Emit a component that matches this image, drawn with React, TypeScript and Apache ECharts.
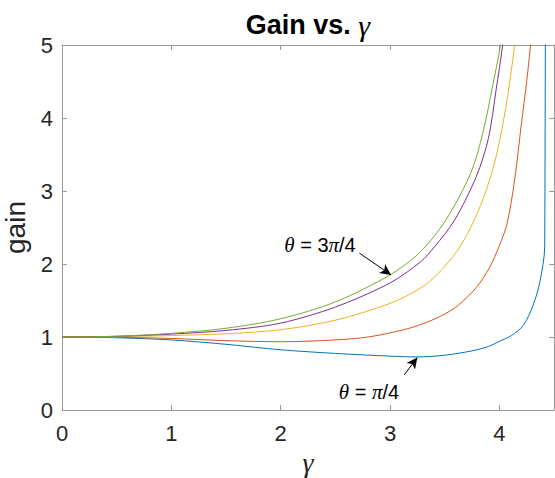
import React, { useEffect, useRef } from "react";
import * as echarts from "echarts";

// gain vs gamma
const thetaPi4: [number, number][] = [
  [0, 1], [0.5, 0.99], [1, 0.96], [1.5, 0.9], [2, 0.825], [2.5, 0.775], [3, 0.738],
  [3.25, 0.727], [3.5, 0.75], [3.75, 0.81], [3.9, 0.87], [4.0, 0.94], [4.11, 1.02],
  [4.22, 1.16], [4.31, 1.44], [4.37, 1.75], [4.415, 2.24], [4.425, 12],
];
const theta3Pi8: [number, number][] = [
  [0, 1], [0.5, 0.995], [1, 0.98], [1.5, 0.95], [2, 0.935], [2.5, 0.96], [2.8, 1.0],
  [3.1, 1.09], [3.28, 1.17], [3.47, 1.29], [3.62, 1.43], [3.79, 1.68], [3.91, 1.95],
  [4.0, 2.25], [4.07, 2.55], [4.14, 3.15], [4.2, 3.9], [4.25, 4.5], [4.29, 5.07], [4.33, 5.8],
];
const thetaPi2: [number, number][] = [
  [0, 1], [0.5, 1.005], [1, 1.02], [1.5, 1.045], [2, 1.1], [2.5, 1.23], [3, 1.46],
  [3.28, 1.67], [3.44, 1.87], [3.62, 2.19], [3.77, 2.6], [3.88, 3.01], [3.97, 3.47],
  [4.06, 4.15], [4.14, 5.0], [4.18, 5.6],
];
const theta5Pi8: [number, number][] = [
  [0, 1], [0.5, 1.01], [1, 1.04], [1.5, 1.09], [2, 1.19], [2.5, 1.41], [3, 1.74],
  [3.28, 2.03], [3.41, 2.24], [3.59, 2.6], [3.79, 3.2], [3.9, 3.72], [3.97, 4.38],
  [4.03, 5.0], [4.06, 5.5],
];
const theta3Pi4: [number, number][] = [
  [0, 1], [0.5, 1.01], [1, 1.05], [1.5, 1.12], [2, 1.25], [2.5, 1.48], [3, 1.85],
  [3.28, 2.17], [3.51, 2.6], [3.74, 3.25], [3.85, 3.8], [3.94, 4.45], [4.01, 5.0], [4.04, 5.5],
];

const seriesNames = ["θ = π/4", "θ = 3π/8", "θ = π/2", "θ = 5π/8", "θ = 3π/4"];
const seriesColors = ["#0072BD", "#D95319", "#EDB120", "#7E2F8E", "#77AC30"];

// annotation arrows in data coordinates
const arrowTop: [number, number][] = [[2.72, 2.15], [3.01, 1.85]];
const arrowBottom: [number, number][] = [[3.13, 0.48], [3.25, 0.72]];

const SANS = "Liberation Sans";
const SERIF = "Liberation Serif";
const AXIS_COLOR = "#999999";
const TEXT_COLOR = "#262626";

function makeAxis(pos: string, min: number, max: number, showLabels: boolean, extra: any) {
  return {
    type: "value",
    position: pos,
    min,
    max,
    interval: 1,
    axisLine: { show: true, onZero: false, lineStyle: { color: AXIS_COLOR, width: 1 } },
    axisTick: { show: true, inside: true, length: 5, lineStyle: { color: AXIS_COLOR, width: 1 } },
    axisLabel: {
      show: showLabels,
      color: TEXT_COLOR,
      fontSize: 22,
      fontFamily: SANS,
    },
    splitLine: { show: false },
    ...extra,
  };
}

export default function App() {
  const ref = useRef<HTMLDivElement>(null);
  useEffect(() => {
    const chart = echarts.init(ref.current!, null, { renderer: "svg" });
    const datasets = [thetaPi4, theta3Pi8, thetaPi2, theta5Pi8, theta3Pi4];
    const arrowLine = (a: [number, number][]) => ({
      silent: true,
      symbol: ["none", "arrow"],
      symbolSize: [8, 11],
      lineStyle: { color: "#000", width: 1, type: "solid" },
      itemStyle: { color: "#000" },
      label: { show: false },
      data: [[{ coord: a[0] }, { coord: a[1] }]],
    });
    const series = datasets.map((d, i) => ({
      name: seriesNames[i],
      type: "line",
      data: d,
      xAxisIndex: 0,
      yAxisIndex: 0,
      showSymbol: false,
      smooth: 0.3,
      clip: true,
      lineStyle: { color: seriesColors[i], width: 1 },
      itemStyle: { color: seriesColors[i] },
      ...(i === 0 ? { markLine: arrowLine(arrowBottom) } : {}),
      ...(i === 4 ? { markLine: arrowLine(arrowTop) } : {}),
    }));
    const annot = (text: string) => ({
      text,
      align: "center",
      verticalAlign: "middle",
      rich: {
        t: { fontFamily: SERIF, fontStyle: "italic", fontSize: 21, color: "#111" },
        s: { fontFamily: SANS, fontSize: 20, color: "#111" },
      },
    });
    chart.setOption({
      animation: false,
      backgroundColor: "#ffffff",
      grid: {
        left: 62, right: 1, top: 45, bottom: 68,
        containLabel: false,
        outerBoundsMode: "none",
      },
      xAxis: [
        makeAxis("bottom", 0, 4.5, true, {
          name: "γ",
          nameLocation: "middle",
          nameGap: 38,
          nameTextStyle: { fontFamily: SERIF, fontStyle: "italic", fontSize: 28, color: TEXT_COLOR },
          axisLabel: { color: TEXT_COLOR, fontSize: 22, fontFamily: SANS, margin: 12, showMaxLabel: false },
        }),
        makeAxis("top", 0, 4.5, false, {}),
      ],
      yAxis: [
        makeAxis("left", 0, 5, true, {
          name: "gain",
          nameLocation: "middle",
          nameGap: 26,
          nameTextStyle: { fontFamily: SANS, fontSize: 28, color: TEXT_COLOR },
          axisLabel: { color: TEXT_COLOR, fontSize: 22, fontFamily: SANS, margin: 9 },
        }),
        makeAxis("right", 0, 5, false, {}),
      ],
      graphic: [
        {
          type: "text",
          x: 308,
          y: 25,
          style: {
            text: "{a|Gain vs. }{b|γ}",
            align: "center",
            verticalAlign: "middle",
            rich: {
              a: { fontFamily: SANS, fontWeight: "bold", fontSize: 27, color: "#000" },
              b: { fontFamily: SERIF, fontStyle: "italic", fontSize: 30, color: "#000" },
            },
          },
        },
        { type: "text", x: 320, y: 245, style: annot("{t|θ}{s| = 3}{t|π}{s|/4}") },
        { type: "text", x: 369, y: 392, style: annot("{t|θ}{s| = }{t|π}{s|/4}") },
      ],
      series,
    });
    return () => chart.dispose();
  }, []);
  return (
    <div
      ref={ref}
      style={{ position: "absolute", left: 0, top: 0, width: 555, height: 478 }}
    />
  );
}
